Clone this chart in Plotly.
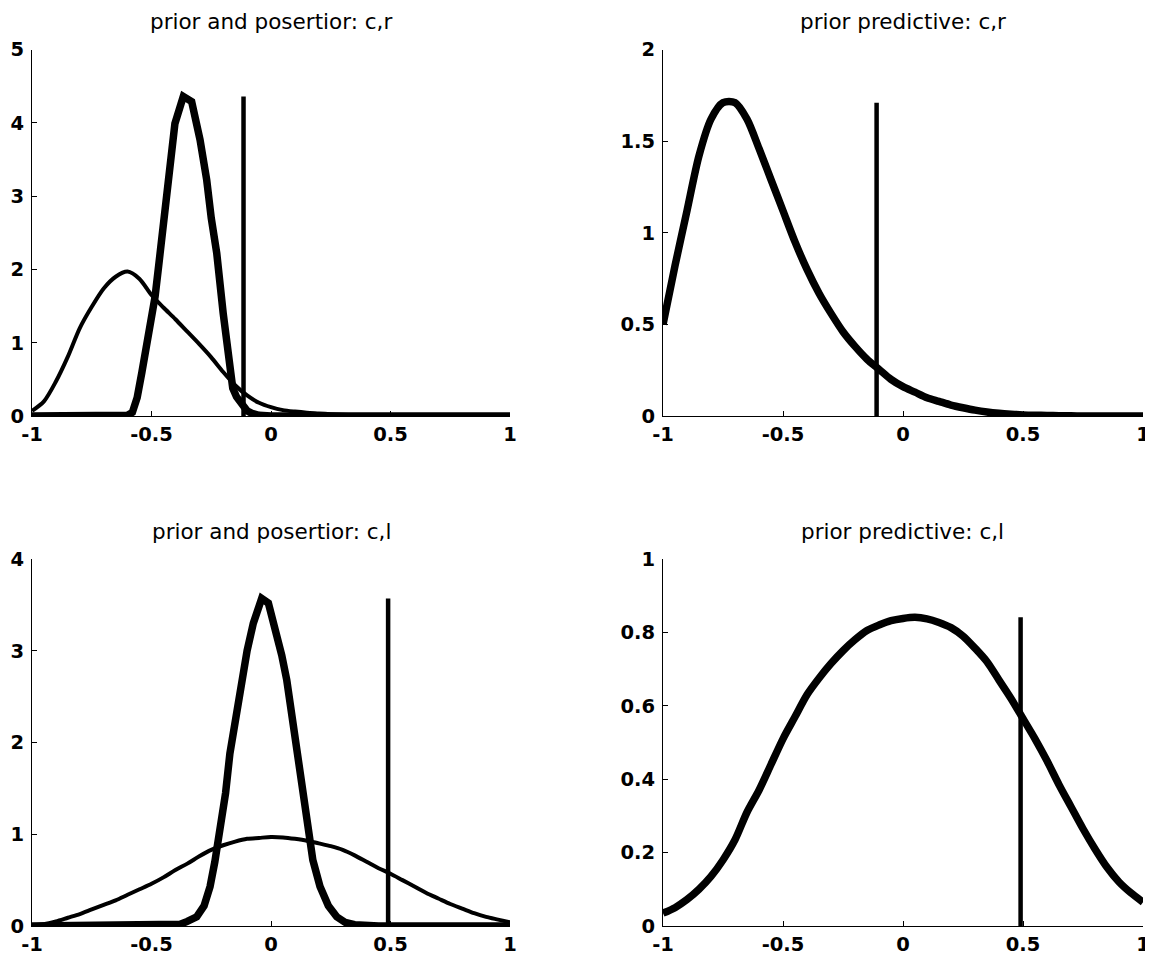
import plotly.graph_objects as go

# ---------------- data ----------------
grid = [round(-1 + 0.05 * i, 2) for i in range(41)]

# top-left: prior and posterior c,r
prior_cr = [0.07, 0.2, 0.47, 0.81, 1.2, 1.49, 1.74, 1.9, 1.97, 1.87,
            1.65, 1.48, 1.32, 1.15, 0.98, 0.8, 0.6, 0.42, 0.28, 0.18,
            0.12, 0.08, 0.06, 0.045, 0.035, 0.025, 0.018, 0.012, 0.008, 0.005,
            0.003, 0.002, 0.001, 0.0, 0.0, 0.0, 0.0, 0.0, 0.0, 0.0, 0.0]
post_cr_x = [-1.0, -0.8, -0.65, -0.6, -0.58, -0.56, -0.54, -0.52, -0.5, -0.485,
             -0.47, -0.45, -0.435, -0.42, -0.402, -0.367, -0.332, -0.297, -0.28, -0.269,
             -0.25, -0.227, -0.2, -0.185, -0.172, -0.16, -0.144, -0.12, -0.1, -0.08,
             -0.05, 0.0, 0.5, 1.0]
post_cr = [0.0, 0.0, 0.0, 0.01, 0.05, 0.25, 0.6, 0.95, 1.3, 1.63,
           2.05, 2.67, 3.1, 3.5, 3.99, 4.36, 4.29, 3.77, 3.45, 3.22,
           2.7, 2.22, 1.4, 0.95, 0.58, 0.38, 0.26, 0.13, 0.07, 0.035,
           0.01, 0.0, 0.0, 0.0]
obs_cr = -0.115

# top-right: prior predictive c,r
pred_cr = [0.5, 0.82, 1.12, 1.42, 1.62, 1.71, 1.71, 1.62, 1.46, 1.29,
           1.12, 0.95, 0.8, 0.67, 0.56, 0.46, 0.38, 0.31, 0.255, 0.2,
           0.16, 0.13, 0.1, 0.08, 0.06, 0.045, 0.032, 0.022, 0.015, 0.01,
           0.006, 0.004, 0.003, 0.002, 0.001, 0.0, 0.0, 0.0, 0.0, 0.0, 0.0]
obs_pred_cr = -0.11

# bottom-left: prior and posterior c,l
prior_cl = [0.01, 0.02, 0.05, 0.09, 0.13, 0.18, 0.23, 0.28, 0.34, 0.4,
            0.46, 0.53, 0.61, 0.68, 0.76, 0.83, 0.88, 0.92, 0.95, 0.96,
            0.97, 0.965, 0.95, 0.93, 0.9, 0.87, 0.83, 0.77, 0.7, 0.63,
            0.57, 0.5, 0.43, 0.36, 0.3, 0.24, 0.19, 0.14, 0.1, 0.07, 0.04]
post_cl_x = [-1.0, -0.6, -0.45, -0.4, -0.38, -0.35, -0.311, -0.28, -0.255, -0.235,
             -0.213, -0.19, -0.172, -0.15, -0.13, -0.1, -0.074, -0.039, -0.011, 0.024,
             0.045, 0.066, 0.085, 0.107, 0.128, 0.149, 0.175, 0.205, 0.24, 0.275,
             0.31, 0.35, 0.4, 0.45, 0.7, 1.0]
post_cl = [0.0, 0.0, 0.0, 0.01, 0.02, 0.05, 0.1, 0.22, 0.43, 0.7,
           1.05, 1.45, 1.88, 2.25, 2.57, 3.0, 3.3, 3.57, 3.52, 3.19,
           2.95, 2.68, 2.33, 1.95, 1.5, 1.08, 0.72, 0.43, 0.22, 0.1,
           0.04, 0.015, 0.005, 0.0, 0.0, 0.0]
obs_cl = 0.49

# bottom-right: prior predictive c,l
pred_cl = [0.035, 0.05, 0.072, 0.1, 0.135, 0.18, 0.235, 0.31, 0.37, 0.44,
           0.51, 0.57, 0.63, 0.675, 0.715, 0.75, 0.78, 0.805, 0.82, 0.832,
           0.838, 0.841, 0.837, 0.827, 0.813, 0.79, 0.757, 0.72, 0.67, 0.62,
           0.565, 0.51, 0.45, 0.385, 0.325, 0.265, 0.21, 0.16, 0.12, 0.09, 0.065]
obs_pred_cl = 0.49

titles = ["prior and posertior: c,r", "prior predictive: c,r",
          "prior and posertior: c,l", "prior predictive: c,l"]
x_ticks = [-1, -0.5, 0, 0.5, 1]
x_ticktext = ["-1", "-0.5", "0", "0.5", "1"]
y_ticks_tl = [0, 1, 2, 3, 4, 5]
y_ticks_tr = [0, 0.5, 1, 1.5, 2]
y_ticktext_tr = ["0", "0.5", "1", "1.5", "2"]
y_ticks_bl = [0, 1, 2, 3, 4]
y_ticks_br = [0, 0.2, 0.4, 0.6, 0.8, 1]
y_ticktext_br = ["0", "0.2", "0.4", "0.6", "0.8", "1"]

# ---------------- figure ----------------
OFF = 8                      # default page body margin
W, H = 1153 - OFF, 965 - OFF
THICK = 7.5
THIN = 4
VW = 4.5
BLACK = "black"
FONT = "DejaVu Sans, Liberation Sans, Arial, sans-serif"

fig = go.Figure()

def line(x, y, w, ax, smooth=False):
    ln = dict(color=BLACK, width=w)
    if smooth:
        ln["shape"] = "spline"
        ln["smoothing"] = 0.8
    fig.add_trace(go.Scatter(x=x, y=y, mode="lines", line=ln,
                             xaxis="x" + ax, yaxis="y" + ax,
                             showlegend=False, hoverinfo="skip"))

# top-left
line(grid, prior_cr, THIN, "", smooth=True)
line(post_cr_x, post_cr, THICK, "")
line([obs_cr, obs_cr], [0, max(post_cr)], VW, "")
# top-right
line(grid, pred_cr, THICK, "2", smooth=True)
line([obs_pred_cr, obs_pred_cr], [0, max(pred_cr)], VW, "2")
# bottom-left
line(grid, prior_cl, THIN, "3", smooth=True)
line(post_cl_x, post_cl, THICK, "3")
line([obs_cl, obs_cl], [0, max(post_cl)], VW, "3")
# bottom-right
line(grid, pred_cl, THICK, "4", smooth=True)
line([obs_pred_cl, obs_pred_cl], [0, max(pred_cl)], VW, "4")

def hdom(a, b):
    return [(a - OFF) / W, (b - OFF) / W]

def vdom(top, bottom):
    return [1 - (bottom - OFF) / H, 1 - (top - OFF) / H]

xl = hdom(32, 510)
xr = hdom(663, 1143)
yt = vdom(49.5, 416)
yb = vdom(559, 926)

tickfont = dict(family=FONT, size=19.5, color=BLACK, weight="bold")

common = dict(ticks="inside", ticklen=5, tickwidth=1, tickcolor=BLACK,
              showline=True, linecolor=BLACK, linewidth=1,
              showgrid=False, zeroline=False, tickfont=tickfont,
              fixedrange=True, automargin=False, ticklabeloverflow="allow")

def xaxis(dom, anchor):
    return dict(domain=dom, anchor=anchor, range=[-1, 1],
                tickvals=x_ticks, ticktext=x_ticktext,
                ticklabelstandoff=1, **common)

def yaxis(dom, anchor, rng, vals, text=None):
    d = dict(domain=dom, anchor=anchor, range=rng, tickvals=vals,
             ticklabelstandoff=3, **common)
    if text is not None:
        d["ticktext"] = text
    return d

annotations = []
title_pos = [((xl[0] + xl[1]) / 2, 1 - (21 - OFF) / H),
             ((xr[0] + xr[1]) / 2, 1 - (21 - OFF) / H),
             ((xl[0] + xl[1]) / 2, 1 - (531 - OFF) / H),
             ((xr[0] + xr[1]) / 2, 1 - (531 - OFF) / H)]
for t, (tx, ty) in zip(titles, title_pos):
    annotations.append(dict(text=t, x=tx, y=ty, xref="paper", yref="paper",
                            xanchor="center", yanchor="middle", showarrow=False,
                            font=dict(family=FONT, size=21.5, color=BLACK)))

fig.update_layout(
    template="none",
    width=W, height=H,
    margin=dict(l=0, r=0, t=0, b=0, autoexpand=False),
    paper_bgcolor="white", plot_bgcolor="white",
    xaxis=xaxis(xl, "y"), yaxis=yaxis(yt, "x", [0, 5], y_ticks_tl),
    xaxis2=xaxis(xr, "y2"), yaxis2=yaxis(yt, "x2", [0, 2], y_ticks_tr, y_ticktext_tr),
    xaxis3=xaxis(xl, "y3"), yaxis3=yaxis(yb, "x3", [0, 4], y_ticks_bl),
    xaxis4=xaxis(xr, "y4"), yaxis4=yaxis(yb, "x4", [0, 1], y_ticks_br, y_ticktext_br),
    annotations=annotations,
)

fig.write_html("out.html", config={"displayModeBar": False})
